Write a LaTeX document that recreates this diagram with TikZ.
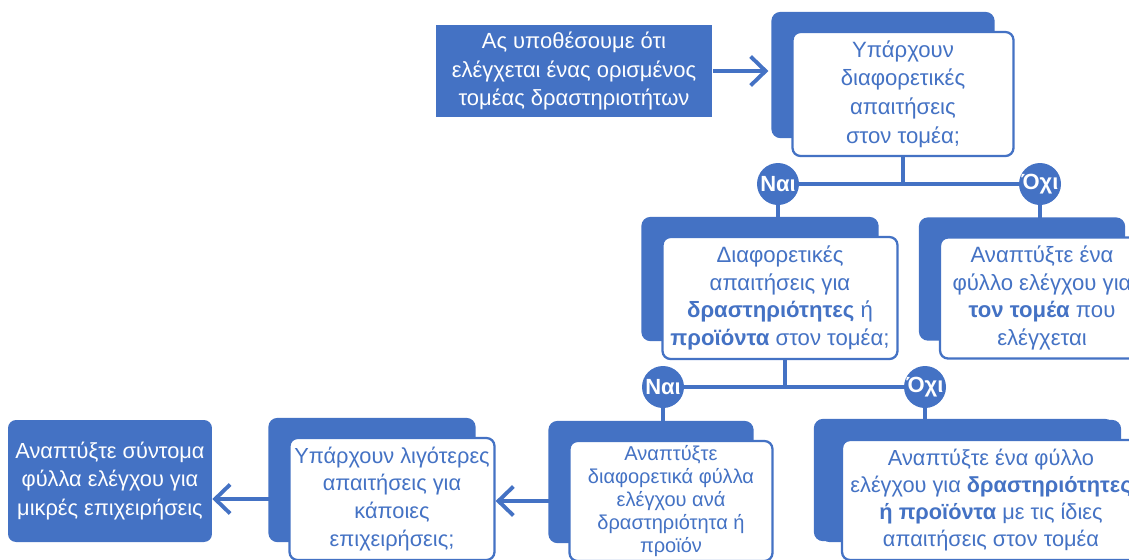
\documentclass[tikz,border=0pt]{standalone}
\usepackage{fontspec}
\setmainfont{Liberation Sans}
\usetikzlibrary{arrows.meta,shadows}
\definecolor{qblue}{HTML}{4472C4}

\begin{document}
\begin{tikzpicture}[x=0.02cm,y=-0.02cm]
        \useasboundingbox (0,0) rectangle (1129,559);
        \clip (0,0) rectangle (1129,559);

        % filled boxes
        \begin{scope}[every node/.style={rectangle,fill=qblue,text=white,align=center,inner sep=0pt}]
            \node[minimum width=5.54cm,minimum height=1.84cm,font=\fontsize{12.5}{16}\selectfont] (start) at (574,71)
                {Ας υποθέσουμε ότι\\ελέγχεται ένας ορισμένος\\τομέας δραστηριοτήτων};
            \node[rounded corners=0.16cm,minimum width=4.08cm,minimum height=2.44cm,font=\fontsize{12.4}{16.2}\selectfont] (E) at (110,481)
                {Αναπτύξτε σύντομα\\φύλλα ελέγχου για\\μικρές επιχειρήσεις};
        \end{scope}

        % question and answer cards
        \begin{scope}[every node/.style={rectangle,rounded corners=0.16cm,draw=qblue,line width=1.3pt,
                    fill=white,text=qblue,align=center,inner sep=0pt,
                    general shadow={fill=qblue,draw=qblue,shadow xshift=-0.4cm,shadow yshift=0.38cm}}]
            \node[minimum width=4.42cm,minimum height=2.48cm,font=\fontsize{12.6}{16.4}\selectfont] (Q1) at (903,94)
                {Υπάρχουν\\διαφορετικές\\απαιτήσεις\\στον τομέα;};
            \node[minimum width=4.7cm,minimum height=2.44cm,font=\fontsize{12.6}{15.7}\selectfont] (Q2) at (780,298)
                {Διαφορετικές\\απαιτήσεις για\\\textbf{δραστηριότητες} ή\\\textbf{προϊόντα} στον τομέα;};
            \node[minimum width=4.08cm,minimum height=2.42cm,font=\fontsize{12.6}{15.7}\selectfont] (A) at (1042,298)
                {Αναπτύξτε ένα\\φύλλο ελέγχου για\\\textbf{τον τομέα} που\\ελέγχεται};
            \node[minimum width=4.06cm,minimum height=2.4cm,font=\fontsize{11.4}{13.2}\selectfont] (B) at (671,501)
                {Αναπτύξτε\\διαφορετικά φύλλα\\ελέγχου ανά\\δραστηριότητα ή\\προϊόν};
            \node[minimum width=5.96cm,minimum height=2.4cm,font=\fontsize{12.4}{15.4}\selectfont,
                  general shadow={fill=qblue,draw=qblue,shadow xshift=-0.54cm,shadow yshift=0.4cm}] (C) at (991,500)
                {Αναπτύξτε ένα φύλλο\\ελέγχου για \textbf{δραστηριότητες}\\\textbf{ή προϊόντα} με τις ίδιες\\απαιτήσεις στον τομέα};
            \node[minimum width=4.1cm,minimum height=2.44cm,font=\fontsize{12.4}{15.9}\selectfont] (D) at (392,499)
                {Υπάρχουν λιγότερες\\απαιτήσεις για\\κάποιες\\επιχειρήσεις;};
        \end{scope}

        % answer circles
        \begin{scope}[every node/.style={circle,fill=qblue,text=white,inner sep=0pt,minimum size=0.84cm,
                    font=\bfseries\fontsize{12.5}{14}\selectfont}]
            \node (yes1) at (778,184) {Ναι};
            \node (no1)  at (1040,184) {Όχι};
            \node (yes2) at (663,387) {Ναι};
            \node (no2)  at (925,387) {Όχι};
        \end{scope}

        \begin{scope}[>={Straight Barb[length=0.3cm,width=0.58cm]},
                    every edge/.style={draw=qblue,line width=2.2pt}]
            \path [-] (Q1.south) edge (Q1.south |- yes1);
            \path [-] (yes1) edge (no1);
            \path [-] (yes1) edge (yes1 |- Q2.north);
            \path [-] (no1)  edge (no1 |- A.north);
            \path [-] ([xshift=0.1cm]Q2.south) edge ([xshift=0.1cm]Q2.south |- yes2);
            \path [-] (yes2) edge (no2);
            \path [-] (yes2) edge (yes2 |- B.north);
            \path [-] (no2)  edge (no2 |- C.north);
            \path [->] (start) edge [shorten >=0.46cm] (start -| Q1.west);
            \path [->] (B.west) edge (B.west -| D.east);
            \path [->] (D.west) edge (D.west -| E.east);
        \end{scope}
    \end{tikzpicture}
\end{document}
